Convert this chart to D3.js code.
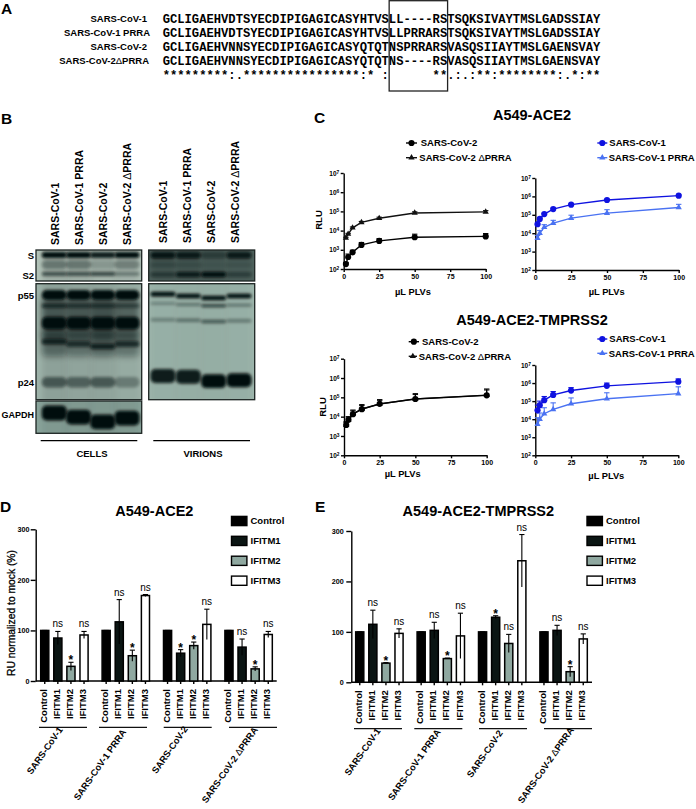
<!DOCTYPE html>
<html>
<head>
<meta charset="utf-8">
<script src="https://cdn.jsdelivr.net/npm/d3@7"></script>
<style>
    html, body { margin: 0; padding: 0; background: #fff; }
    svg { display: block; }
    text { font-family: "Liberation Sans", Arial, sans-serif; fill: #000; }
    .bold { font-weight: bold; }
    .seq { font-family: "Liberation Mono", monospace; font-weight: bold; font-size: 12.17px; white-space: pre; }
    .axis text { font-family: "Liberation Sans", Arial, sans-serif; font-weight: bold; }
    .axis line, .axis path { stroke: #000; stroke-width: 1.4; }
</style>
</head>
<body>
<div id="figure"></div>
<script>
// Panel A: alignment
const alignNames = ["SARS-CoV-1", "SARS-CoV-1 PRRA", "SARS-CoV-2", "SARS-CoV-2ΔPRRA"];
const alignSeqs = [
    "GCLIGAEHVDTSYECDIPIGAGICASYHTVSLL----RSTSQKSIVAYTMSLGADSSIAY",
    "GCLIGAEHVDTSYECDIPIGAGICASYHTVSLLPRRARSTSQKSIVAYTMSLGADSSIAY",
    "GCLIGAEHVNNSYECDIPIGAGICASYQTQTNSPRRARSVASQSIIAYTMSLGAENSVAY",
    "GCLIGAEHVNNSYECDIPIGAGICASYQTQTNS----RSVASQSIIAYTMSLGAENSVAY"
];
const alignStars = "*********:.****************:* :      **.:.:**:********:.*:**";

// Panel B: blots. Migration and spread are % of the panel height, density is 0-1 per lane
const strains = ["SARS-CoV-1", "SARS-CoV-1 PRRA", "SARS-CoV-2", "SARS-CoV-2 ΔPRRA"];

const sCellsMigration = [[16, 16, 16, 16], [47, 47, 47, 47], [77, 77, 77, 77]];
const sCellsSpread = [19, 28, 14];
const sCellsDensity = [[1, 1, 0.9, 1], [0.35, 0.35, 0.18, 0.3], [0.6, 0.6, 0.65, 0.35]];
const sCellsSmear = [0.12, 0.12, 0.08, 0.1];

const sVirionsMigration = [[17, 17, 17, 17], [48, 48, 48, 48], [79, 79, 79, 79]];
const sVirionsSpread = [22, 22, 18];
const sVirionsDensity = [[0.9, 0.85, 0.4, 0.85], [0.25, 0.2, 0.1, 0.15], [0.45, 0.85, 1, 0.4]];
const sVirionsSmear = [0.1, 0.1, 0.1, 0.05];

const gagCellsMigration = [
    [30, 30, 30, 30], [52, 52, 52, 52], [9.7, 9.7, 9.7, 9.7], [19, 19, 19, 19],
    [34, 34, 34, 34], [50, 52, 54, 52], [85, 85, 85, 85]
];
const gagCellsSpread = [38, 22, 8.5, 4, 11, 5, 9];
const gagCellsDensity = [
    [0.5, 0.5, 0.55, 0.45], [0.4, 0.35, 0.4, 0.35], [1, 1, 1, 1], [0.65, 0.55, 0.55, 0.45],
    [1, 1, 1, 1], [0.75, 0.65, 0.8, 0.7], [0.5, 0.45, 0.5, 0.3]
];
const gagCellsSmear = [0.12, 0.1, 0.1, 0.06];

const gagVirionsMigration = [[9, 10.6, 12.3, 10.6], [17, 18, 19, 18.5], [31, 31.5, 32.5, 32], [79.5, 80.2, 84, 83.3]];
const gagVirionsSpread = [4, 2.5, 3, 12];
const gagVirionsDensity = [[1, 1, 1, 1], [0.3, 0.4, 0.7, 0.4], [0.3, 0.4, 0.55, 0.35], [0.9, 0.9, 1, 1]];
const gagVirionsSmear = [0.05, 0.06, 0.06, 0.05];

const gapdhMigration = [[37, 50, 64.5, 53]];
const gapdhSpread = [46];
const gapdhDensity = [[1, 1, 1, 1]];
const gapdhSmear = [0.08, 0.08, 0.08, 0.08];

// Panel C: titration curves, uL PLVs vs RLU (upper error bar only)
const volumes = [1.56, 3.125, 6.25, 12.5, 25, 50, 100];
const yPowers = [1e2, 1e3, 1e4, 1e5, 1e6, 1e7];
const xVolumeTicks = [0, 25, 50, 75, 100];

const ace2Cov2 = [180, 420, 740, 1800, 2900, 4500, 5000];
const ace2Cov2Up = [220, 600, 950, 2400, 3800, 6500, 7000];
const ace2Cov2Delta = [4100, 6600, 14000, 27000, 44000, 83000, 94000];
const ace2Cov2DeltaUp = [4500, 7200, 15500, 30000, 50000, 95000, 110000];
const ace2Cov1 = [31000, 60000, 110000, 205000, 355000, 640000, 1100000];
const ace2Cov1Up = [34000, 66000, 120000, 225000, 390000, 700000, 1200000];
const ace2Cov1Prra = [5300, 10000, 21000, 35000, 66000, 124000, 250000];
const ace2Cov1PrraUp = [7500, 14000, 29000, 50000, 95000, 190000, 370000];

const tmprssCov2 = [3700, 6900, 13500, 24500, 46000, 82000, 127000];
const tmprssCov2Up = [5500, 10000, 22000, 42000, 76000, 155000, 270000];
const tmprssCov2Delta = [3600, 6800, 13800, 25000, 45000, 83000, 130000];
const tmprssCov2DeltaUp = [5000, 9500, 20000, 38000, 70000, 140000, 240000];
const tmprssCov1 = [31000, 60000, 113000, 220000, 385000, 700000, 1200000];
const tmprssCov1Up = [60000, 100000, 180000, 340000, 560000, 1000000, 1700000];
const tmprssCov1Prra = [5200, 10000, 20000, 35000, 71000, 135000, 260000];
const tmprssCov1PrraUp = [12000, 22000, 43000, 80000, 150000, 290000, 620000];

// Panels D and E: RU normalized to mock, per group
const pseudotypes = ["SARS-CoV-1", "SARS-CoV-1 PRRA", "SARS-CoV-2", "SARS-CoV-2 ΔPRRA"];
const ifitms = ["Control", "IFITM1", "IFITM2", "IFITM3"];
const ruTicks = [0, 100, 200, 300];

const ace2Ru = [[100, 85, 29, 91], [100, 117, 50, 169], [100, 55, 70, 112], [100, 67, 24, 92]];
const ace2RuUp = [[100, 98, 37, 98], [100, 161, 61, 171], [100, 62, 77, 142], [100, 83, 28, 98]];
const ace2RuDown = [[100, 72, 21, 84], [100, 73, 39, 167], [100, 48, 63, 82], [100, 51, 20, 86]];
const ace2Sig = [["", "ns", "*", "ns"], ["", "ns", "*", "ns"], ["", "*", "*", "ns"], ["", "ns", "*", "ns"]];

const tmprssRu = [[100, 115, 38, 97], [100, 103, 47, 92], [100, 129, 77, 241], [100, 103, 21, 86]];
const tmprssRuUp = [[100, 143, 39, 106], [100, 119, 48, 137], [100, 132, 95, 293], [100, 113, 31, 96]];
const tmprssRuDown = [[100, 87, 37, 88], [100, 87, 46, 47], [100, 126, 59, 189], [100, 93, 11, 76]];
const tmprssSig = [["", "ns", "*", "ns"], ["", "ns", "*", "ns"], ["", "*", "ns", "ns"], ["", "ns", "*", "ns"]];

const barColors = { Control: "#000000", IFITM1: "#0b1513", IFITM2: "#8fa8a0", IFITM3: "#ffffff" };
const BLUE = "#0f12e0";
const LIGHT_BLUE = "#4a72f2";

const svg = d3.select("#figure").append("svg")
    .attr("width", 696)
    .attr("height", 809)
    .attr("viewBox", "0 0 696 809");

const defs = svg.append("defs");
[["bandBlur", 1.5], ["hazeBlur", 3]].forEach(d => {
    defs.append("filter").attr("id", d[0])
        .attr("x", "-40%").attr("y", "-150%").attr("width", "180%").attr("height", "400%")
        .append("feGaussianBlur").attr("stdDeviation", d[1]);
});

function addText(parent, x, y, str, size, opts = {}) {
    const label = parent.append("text")
        .attr("x", x)
        .attr("y", y)
        .attr("text-anchor", opts.anchor || "start")
        .attr("class", opts.normal ? null : "bold")
        .attr("transform", opts.rotate ? `rotate(${opts.rotate},${x},${y})` : null)
        .style("font-size", size + "px");

    // the delta is a thin glyph in the figure, even inside bold labels
    str.split(/(Δ)/).forEach(part => {
        if (part) label.append("tspan").style("font-weight", part === "Δ" ? "normal" : null).text(part);
    });
    return label;
}

// Panel letters
[["A", 1, 14], ["B", 1, 124], ["C", 314, 123], ["D", 0, 512], ["E", 315, 512]].forEach(d => {
    addText(svg, d[1], d[2], d[0], 15.5);
});

// Panel A
function drawAlignment() {
    const seqX = d3.scaleLinear().domain([0, 60]).range([162.7, 601]);
    const rowY = d3.scalePoint().domain(d3.range(5)).range([23, 79]);
    const nameEnd = [147, 150, 147, 149];

    alignNames.forEach((name, i) => {
        addText(svg, nameEnd[i], rowY(i) - 1, name, 9.5, { anchor: "end" });
        svg.append("text").attr("class", "seq").attr("x", seqX(0)).attr("y", rowY(i)).text(alignSeqs[i]);
    });
    svg.append("text").attr("class", "seq").attr("x", seqX(0)).attr("y", rowY(4)).text(alignStars);

    // box round the furin site
    svg.append("rect")
        .attr("x", seqX(31))
        .attr("y", 0.7)
        .attr("width", seqX(39) - seqX(31))
        .attr("height", 90.3)
        .attr("fill", "none")
        .attr("stroke", "#222")
        .attr("stroke-width", 1.3);
}

// Panel B
function drawBlot(id, left, right, top, bottom, laneRange, background, migration, spread, density, smear) {
    const yBlot = d3.scaleLinear().domain([0, 100]).range([top, bottom]);
    const lane = d3.scalePoint().domain(strains).range(laneRange);
    const laneWidth = 25;

    defs.append("clipPath").attr("id", id).append("rect")
        .attr("x", left).attr("y", top).attr("width", right - left).attr("height", bottom - top);

    const blot = svg.append("g").attr("clip-path", `url(#${id})`);
    blot.append("rect")
        .attr("x", left).attr("y", top).attr("width", right - left).attr("height", bottom - top)
        .attr("fill", background);

    // faint smear down each lane
    blot.selectAll(null).data(strains).enter().append("rect")
        .attr("x", d => lane(d) - laneWidth / 2)
        .attr("y", top - 5)
        .attr("width", laneWidth)
        .attr("height", bottom - top + 10)
        .attr("fill", "#0c1614")
        .attr("opacity", (d, i) => smear[i])
        .attr("filter", "url(#hazeBlur)");

    migration.forEach((row, r) => {
        const bandH = yBlot(spread[r]) - top;
        const isHaze = bandH > 14 && density[r][0] < 0.8;
        blot.selectAll(null)
            .data(strains)
            .enter().append("rect")
            .attr("x", d => lane(d) - laneWidth / 2)
            .attr("y", (d, i) => yBlot(row[i]) - bandH / 2)
            .attr("width", laneWidth)
            .attr("height", bandH)
            .attr("rx", Math.min(bandH / 2, 5))
            .attr("fill", "#030808")
            .attr("opacity", (d, i) => density[r][i])
            .attr("filter", isHaze ? "url(#hazeBlur)" : "url(#bandBlur)");
    });

    svg.append("rect")
        .attr("x", left).attr("y", top).attr("width", right - left).attr("height", bottom - top)
        .attr("fill", "none").attr("stroke", "#1c2422").attr("stroke-width", 1.3);
}

function drawBlots() {
    drawBlot("bS1", 36, 141.7, 250, 281, [54.3, 127], "#b4c5bb", sCellsMigration, sCellsSpread, sCellsDensity, sCellsSmear);
    drawBlot("bS2", 148.7, 254.7, 250, 281, [163, 239], "#4f635e", sVirionsMigration, sVirionsSpread, sVirionsDensity, sVirionsSmear);
    drawBlot("bG1", 36, 141.7, 283.7, 399.7, [54.3, 127], "#a0b5ac", gagCellsMigration, gagCellsSpread, gagCellsDensity, gagCellsSmear);
    drawBlot("bG2", 148.7, 254.7, 283.7, 399.7, [163, 239], "#9fb8ae", gagVirionsMigration, gagVirionsSpread, gagVirionsDensity, gagVirionsSmear);
    drawBlot("bD1", 36, 141.7, 401, 433.3, [54.3, 127], "#8aa59c", gapdhMigration, gapdhSpread, gapdhDensity, gapdhSmear);

    const labelX = [d3.scalePoint().domain(strains).range([55, 127]), d3.scalePoint().domain(strains).range([163, 235])];
    strains.forEach(s => {
        addText(svg, labelX[0](s) + 3.5, 245, s, 10.5, { rotate: -90 });
        addText(svg, labelX[1](s) + 3.5, 243, s, 10.5, { rotate: -90 });
    });

    [["S", 259], ["S2", 279], ["p55", 299], ["p24", 386], ["GAPDH", 418]].forEach(d => {
        addText(svg, 34, d[1], d[0], d[0] === "GAPDH" ? 9 : 9.5, { anchor: "end" });
    });

    [[40.7, 137.3, "CELLS", 92], [153.3, 250, "VIRIONS", 203]].forEach(d => {
        svg.append("line").attr("x1", d[0]).attr("x2", d[1]).attr("y1", 440.7).attr("y2", 440.7)
            .attr("stroke", "#000").attr("stroke-width", 1.2);
        addText(svg, d[3], 456.5, d[2], 9.5, { anchor: "middle" });
    });
}

// Panel C
function symbolPath(kind) {
    return d3.symbol().type(kind === "circle" ? d3.symbolCircle : d3.symbolTriangle).size(kind === "circle" ? 30 : 17)();
}

function drawCurve(g, x, y, values, upper, color, kind) {
    const line = d3.line().x((d, i) => x(volumes[i])).y(d => y(d));
    g.append("path").attr("d", line(values)).attr("fill", "none").attr("stroke", color).attr("stroke-width", 1.4);

    g.selectAll(null).data(volumes).enter().append("line")
        .attr("x1", d => x(d)).attr("x2", d => x(d))
        .attr("y1", (d, i) => y(values[i])).attr("y2", (d, i) => y(upper[i]))
        .attr("stroke", color).attr("stroke-width", 1.1);
    g.selectAll(null).data(volumes).enter().append("line")
        .attr("x1", d => x(d) - 2.7).attr("x2", d => x(d) + 2.7)
        .attr("y1", (d, i) => y(upper[i])).attr("y2", (d, i) => y(upper[i]))
        .attr("stroke", color).attr("stroke-width", 1.1);

    g.selectAll(null).data(values).enter().append("path")
        .attr("d", symbolPath(kind))
        .attr("fill", color)
        .attr("transform", (d, i) => `translate(${x(volumes[i])},${y(d)})`);
}

function drawLegendRow(parent, lineX1, lineX2, textX, y, name, color, kind) {
    parent.append("line").attr("x1", lineX1).attr("x2", lineX2).attr("y1", y).attr("y2", y)
        .attr("stroke", color).attr("stroke-width", 1.4);
    parent.append("path").attr("d", symbolPath(kind)).attr("fill", color)
        .attr("transform", `translate(${(lineX1 + lineX2) / 2},${y})`);
    addText(parent, textX, y + 3.4, name, 9.5);
}

function drawTitrationChart(left, right, top, bottom, series) {
    const x = d3.scaleLinear().domain([0, 100]).range([left, right]);
    const y = d3.scaleLog().domain([1e2, 1e7]).range([bottom, top]);

    const yAxis = svg.append("g")
        .attr("class", "axis")
        .attr("transform", `translate(${left},0)`)
        .call(d3.axisLeft(y).tickValues(yPowers).tickSize(3).tickPadding(1.5).tickSizeOuter(0).tickFormat(""));

    yAxis.selectAll(".tick text").each(function (d) {
        const label = d3.select(this).style("font-size", "6.5px");
        label.append("tspan").text("10");
        label.append("tspan").attr("dy", -2).style("font-size", "4.8px").text(Math.round(Math.log10(d)));
    });

    svg.append("g")
        .attr("class", "axis")
        .attr("transform", `translate(0,${bottom})`)
        .call(d3.axisBottom(x).tickValues(xVolumeTicks).tickSize(3).tickPadding(2).tickSizeOuter(0))
        .selectAll("text")
        .style("font-size", "7px");

    const g = svg.append("g");
    series.forEach(s => drawCurve(g, x, y, s.values, s.upper, s.color, s.kind));
}

function drawTitrations() {
    addText(svg, 532, 120, "A549-ACE2", 14.5, { anchor: "middle" });
    addText(svg, 532, 325, "A549-ACE2-TMPRSS2", 14.5, { anchor: "middle" });

    drawTitrationChart(343.7, 485.7, 173, 269, [
        { values: ace2Cov2Delta, upper: ace2Cov2DeltaUp, color: "#111", kind: "triangle" },
        { values: ace2Cov2, upper: ace2Cov2Up, color: "#000", kind: "circle" }
    ]);
    drawTitrationChart(535.3, 678.7, 178, 270, [
        { values: ace2Cov1Prra, upper: ace2Cov1PrraUp, color: LIGHT_BLUE, kind: "triangle" },
        { values: ace2Cov1, upper: ace2Cov1Up, color: BLUE, kind: "circle" }
    ]);
    drawTitrationChart(344, 486.7, 358.7, 455.3, [
        { values: tmprssCov2Delta, upper: tmprssCov2DeltaUp, color: "#111", kind: "triangle" },
        { values: tmprssCov2, upper: tmprssCov2Up, color: "#000", kind: "circle" }
    ]);
    drawTitrationChart(535.3, 678.3, 365, 455.3, [
        { values: tmprssCov1Prra, upper: tmprssCov1PrraUp, color: LIGHT_BLUE, kind: "triangle" },
        { values: tmprssCov1, upper: tmprssCov1Up, color: BLUE, kind: "circle" }
    ]);

    addText(svg, 321.5, 220, "RLU", 9.5, { anchor: "middle", rotate: -90 });
    addText(svg, 325.5, 407, "RLU", 9.5, { anchor: "middle", rotate: -90 });
    addText(svg, 413, 295, "µL PLVs", 9.3, { anchor: "middle" });
    addText(svg, 606.7, 295, "µL PLVs", 9.3, { anchor: "middle" });
    addText(svg, 402.7, 477, "µL PLVs", 9.3, { anchor: "middle" });
    addText(svg, 606.3, 479, "µL PLVs", 9.3, { anchor: "middle" });

    drawLegendRow(svg, 406, 417, 420.7, 143, "SARS-CoV-2", "#000", "circle");
    drawLegendRow(svg, 406, 417, 419.3, 157.7, "SARS-CoV-2 ΔPRRA", "#111", "triangle");
    drawLegendRow(svg, 597.3, 607.3, 609.3, 143, "SARS-CoV-1", BLUE, "circle");
    drawLegendRow(svg, 597.3, 607.3, 608.7, 157.7, "SARS-CoV-1 PRRA", LIGHT_BLUE, "triangle");
    drawLegendRow(svg, 408.7, 419, 422, 341.7, "SARS-CoV-2", "#000", "circle");
    drawLegendRow(svg, 408.7, 417, 418.7, 356.3, "SARS-CoV-2 ΔPRRA", "#111", "triangle");
    drawLegendRow(svg, 597.3, 607.3, 609.3, 339, "SARS-CoV-1", BLUE, "circle");
    drawLegendRow(svg, 597.3, 607.3, 608.7, 353.3, "SARS-CoV-1 PRRA", LIGHT_BLUE, "triangle");
}

// Panels D and E
function drawBarChart(cfg) {
    const x0 = d3.scaleBand().domain(pseudotypes).range(cfg.xRange).paddingInner(0.147);
    const x1 = d3.scaleBand().domain(ifitms).range([0, x0.bandwidth()]).paddingInner(0.38).paddingOuter(0.19);
    const y = d3.scaleLinear().domain([0, 300]).range([cfg.bottom, cfg.top]);
    const chart = svg.append("g");

    chart.append("g")
        .attr("class", "axis")
        .attr("transform", `translate(${cfg.axisX},0)`)
        .call(d3.axisLeft(y).tickValues(ruTicks).tickSize(5).tickPadding(cfg.tickPadding).tickSizeOuter(0))
        .selectAll("text")
        .style("font-size", "7.2px");

    chart.append("line")
        .attr("x1", cfg.axisX).attr("x2", cfg.axisEnd)
        .attr("y1", y(0)).attr("y2", y(0))
        .attr("stroke", "#000").attr("stroke-width", 1.5);

    pseudotypes.forEach((group, g) => {
        const grp = chart.append("g").attr("transform", `translate(${x0(group)},0)`);

        grp.selectAll(null).data(ifitms).enter().append("rect")
            .attr("x", d => x1(d))
            .attr("y", (d, i) => y(cfg.values[g][i]))
            .attr("width", x1.bandwidth())
            .attr("height", (d, i) => y(0) - y(cfg.values[g][i]))
            .attr("fill", d => barColors[d])
            .attr("stroke", "#000")
            .attr("stroke-width", 1.5);

        const mid = d => x1(d) + x1.bandwidth() / 2;
        grp.selectAll(null).data(ifitms).enter().append("line")
            .attr("x1", mid).attr("x2", mid)
            .attr("y1", (d, i) => y(cfg.lower[g][i])).attr("y2", (d, i) => y(cfg.upper[g][i]))
            .attr("stroke", "#000").attr("stroke-width", 1.1);
        grp.selectAll(null).data(ifitms).enter().append("line")
            .attr("x1", d => mid(d) - 2.6).attr("x2", d => mid(d) + 2.6)
            .attr("y1", (d, i) => y(cfg.upper[g][i])).attr("y2", (d, i) => y(cfg.upper[g][i]))
            .attr("stroke", "#000").attr("stroke-width", 1.1);

        // significance labels
        grp.selectAll(null).data(ifitms).enter().append("text")
            .attr("x", mid)
            .attr("y", (d, i) => y(cfg.upper[g][i]) + (cfg.sig[g][i] === "*" ? 2 : -4))
            .attr("text-anchor", "middle")
            .attr("class", (d, i) => cfg.sig[g][i] === "*" ? "bold" : null)
            .style("font-size", (d, i) => cfg.sig[g][i] === "*" ? "12px" : "10px")
            .text((d, i) => cfg.sig[g][i]);

        // category labels below the axis
        const tickAxis = grp.append("g")
            .attr("class", "axis")
            .attr("transform", `translate(0,${y(0)})`)
            .call(d3.axisBottom(x1).tickSize(3).tickSizeOuter(0));
        tickAxis.select(".domain").remove();
        tickAxis.selectAll("text")
            .attr("text-anchor", "end")
            .attr("transform", "rotate(-90)")
            .attr("x", -8)
            .attr("y", -1)
            .attr("dy", "0.33em")
            .style("font-size", "9.5px");

        // group underline and rotated name
        chart.append("line")
            .attr("x1", cfg.underline[g]).attr("x2", cfg.underline[g] + 48)
            .attr("y1", cfg.underlineY).attr("y2", cfg.underlineY)
            .attr("stroke", "#111").attr("stroke-width", 1.2);
        addText(chart, cfg.nameEnd[g][0], cfg.nameEnd[g][1] - 2, group, 9.3, { anchor: "end", rotate: -55 });
    });

    ifitms.forEach(name => {
        const rowY = d3.scalePoint().domain(ifitms).range(cfg.legendY);
        chart.append("rect")
            .attr("x", cfg.legendX).attr("y", rowY(name) - 4.6)
            .attr("width", 15.4).attr("height", 9.2)
            .attr("fill", barColors[name]).attr("stroke", "#000").attr("stroke-width", 1.4);
        addText(chart, cfg.legendX + 19, rowY(name) + 3.4, name, 9.5);
    });

    addText(chart, cfg.titleX, 516, cfg.title, 14.5, { anchor: "middle" });
}

drawAlignment();
drawBlots();
drawTitrations();

drawBarChart({
    title: "A549-ACE2", titleX: 154.3,
    values: ace2Ru, upper: ace2RuUp, lower: ace2RuDown, sig: ace2Sig,
    xRange: [38.2, 274.8], axisX: 35.7, axisEnd: 276.7, top: 529.3, bottom: 681, tickPadding: 1.2,
    underline: [39, 99, 163.7, 229], underlineY: 727.3,
    nameEnd: [[63.3, 731.7], [126.7, 734], [188.3, 731], [258.3, 731.7]],
    legendX: 231.5, legendY: [521, 580.7]
});

drawBarChart({
    title: "A549-ACE2-TMPRSS2", titleX: 478.3,
    values: tmprssRu, upper: tmprssRuUp, lower: tmprssRuDown, sig: tmprssSig,
    xRange: [353.2, 589.8], axisX: 351.3, axisEnd: 592, top: 531, bottom: 682.3, tickPadding: 2.5,
    underline: [354, 414.3, 479, 544], underlineY: 728.7,
    nameEnd: [[381, 733], [441, 734], [503.3, 735], [574.3, 732]],
    legendX: 587, legendY: [521, 580.7]
});

addText(svg, 15, 613, "RU normalized to mock (%)", 10.3, { anchor: "middle", rotate: -90, normal: true })
    .attr("stroke", "#000").attr("stroke-width", 0.3);
</script>
</body>
</html>
